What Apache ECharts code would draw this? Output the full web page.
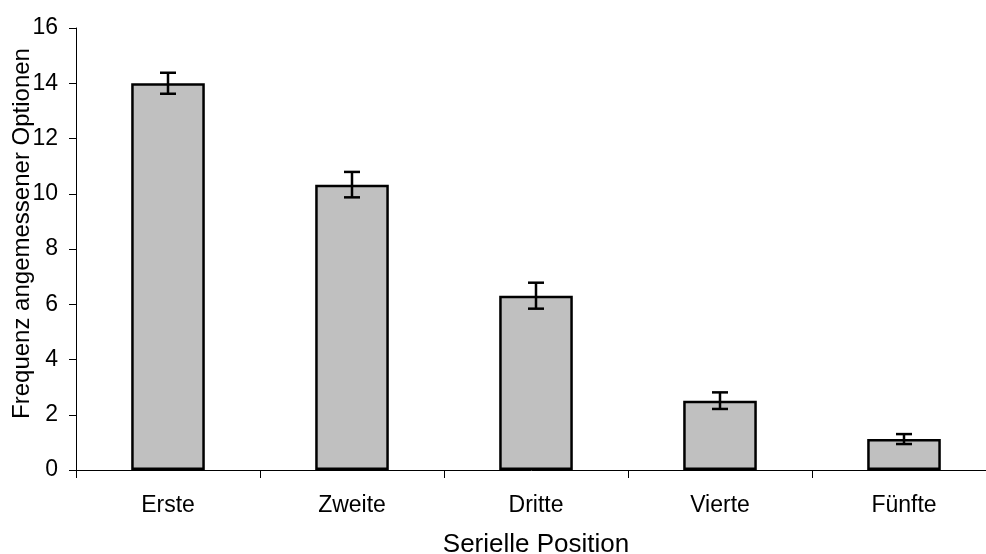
<!DOCTYPE html>
<html>
<head>
<meta charset="utf-8">
<script src="https://cdn.jsdelivr.net/npm/echarts@6/dist/echarts.min.js"></script>
<style>
html,body{margin:0;padding:0;background:#fff;}
#c{width:986px;height:554px;}
</style>
</head>
<body>
<div id="c"></div>
<script>
var categories = ['Erste', 'Zweite', 'Dritte', 'Vierte', 'Fünfte'];
var values = [14.0, 10.33, 6.31, 2.51, 1.12];
var errors = [0.38, 0.46, 0.47, 0.30, 0.18];
var yTicks = [0, 16, 2];

var chart = echarts.init(document.getElementById('c'), null, {renderer: 'canvas'});
var font = 'Liberation Sans, Arial, sans-serif';
var errData = values.map(function (v, i) { return [i, v - errors[i], v + errors[i]]; });

chart.setOption({
  animation: false,
  backgroundColor: '#ffffff',
  grid: {left: 76, top: 28, bottom: 84, right: -10, containLabel: false, outerBoundsMode: 'none'},
  xAxis: {
    type: 'category',
    data: categories,
    name: 'Serielle Position',
    nameLocation: 'middle',
    nameGap: 62,
    nameMoveOverlap: false,
    nameTextStyle: {fontFamily: font, fontSize: 26, color: '#000'},
    axisLine: {lineStyle: {color: '#000', width: 1}},
    axisTick: {show: true, length: 8, lineStyle: {color: '#000'}},
    axisLabel: {fontFamily: font, fontSize: 23, color: '#000', margin: 24}
  },
  yAxis: {
    type: 'value',
    min: yTicks[0], max: yTicks[1], interval: yTicks[2],
    name: 'Frequenz angemessener Optionen',
    nameLocation: 'middle',
    nameGap: 42,
    nameRotate: 90,
    nameMoveOverlap: false,
    nameTextStyle: {fontFamily: font, fontSize: 24, color: '#000', padding: [0, 0, 0, 31]},
    axisLine: {show: true, lineStyle: {color: '#000', width: 1}},
    axisTick: {show: true, length: 7, lineStyle: {color: '#000'}},
    axisLabel: {fontFamily: font, fontSize: 23, color: '#000', margin: 18},
    splitLine: {show: false}
  },
  series: [
    {
      type: 'bar',
      data: values,
      barWidth: '40%',
      itemStyle: {color: '#c0c0c0', borderColor: '#000', borderWidth: 2.5}
    },
    {
      type: 'custom',
      data: errData,
      z: 10,
      renderItem: function (params, api) {
        var x = api.value(0);
        var lo = api.coord([x, api.value(1)]);
        var hi = api.coord([x, api.value(2)]);
        var hw = 8;
        var st = {stroke: '#000', lineWidth: 2.5, fill: null};
        return {
          type: 'group',
          children: [
            {type: 'line', shape: {x1: lo[0], y1: lo[1], x2: hi[0], y2: hi[1]}, style: st},
            {type: 'line', shape: {x1: hi[0] - hw, y1: hi[1], x2: hi[0] + hw, y2: hi[1]}, style: st},
            {type: 'line', shape: {x1: lo[0] - hw, y1: lo[1], x2: lo[0] + hw, y2: lo[1]}, style: st}
          ]
        };
      }
    }
  ]
});
</script>
</body>
</html>
